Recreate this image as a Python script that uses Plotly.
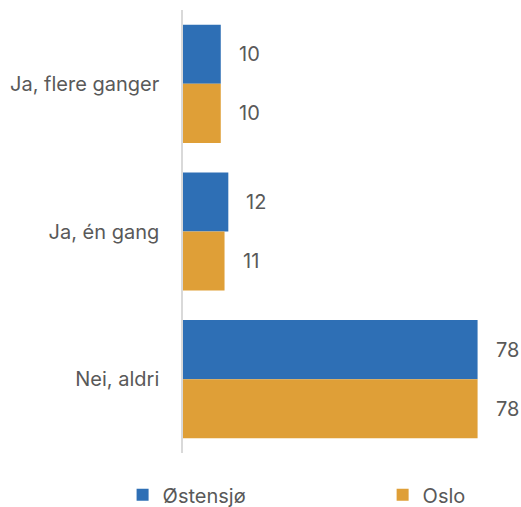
import plotly.graph_objects as go

# Survey answers, listed top to bottom
categories = ["Ja, flere ganger", "Ja, én gang", "Nei, aldri"]
ostensjo = [10, 12, 78]
oslo = [10, 11, 78]

series = [("Østensjø", ostensjo, "#2E6FB5", "legend"),
          ("Oslo", oslo, "#DF9F37", "legend2")]

TEXT = "#595959"
FONT = "Inter"
SIZE = 20

fig = go.Figure()
for name, vals, color, leg in series:
    fig.add_trace(go.Bar(
        name=name, y=categories, x=vals, orientation="h",
        marker=dict(color=color, line=dict(width=0)),
        hoverinfo="skip", legend=leg,
    ))

# Value labels sit a little to the right of each bar end
bar_offsets = [-0.2, 0.2]
for (name, vals, color, leg), off in zip(series, bar_offsets):
    for i, v in enumerate(vals):
        fig.add_annotation(
            x=v, y=i + off, xref="x", yref="y",
            text=str(v), showarrow=False,
            xanchor="left", yanchor="middle", xshift=16,
            font=dict(family=FONT, size=SIZE, color=TEXT),
        )

legend_style = dict(
    orientation="h", xref="container", yref="container",
    y=0.024, xanchor="left", yanchor="middle", itemwidth=30,
    font=dict(family=FONT, size=SIZE, color=TEXT),
)

fig.update_layout(
    width=521, height=507,
    margin=dict(l=183, r=20, t=10, b=54),
    plot_bgcolor="white", paper_bgcolor="white",
    barmode="group", bargap=0.2, bargroupgap=0,
    font=dict(family=FONT, size=SIZE, color=TEXT),
    xaxis=dict(range=[0, 84.2], visible=False, fixedrange=True),
    yaxis=dict(
        type="category", autorange="reversed",
        showline=True, linecolor="#D9D9D9", linewidth=1.5,
        showgrid=False, ticks="", ticklabelstandoff=18,
        tickfont=dict(family=FONT, size=SIZE, color=TEXT),
        fixedrange=True,
    ),
    showlegend=True,
    legend=dict(x=0.2353, **legend_style),
    legend2=dict(x=0.7344, **legend_style),
)

fig.write_html("out.html")
